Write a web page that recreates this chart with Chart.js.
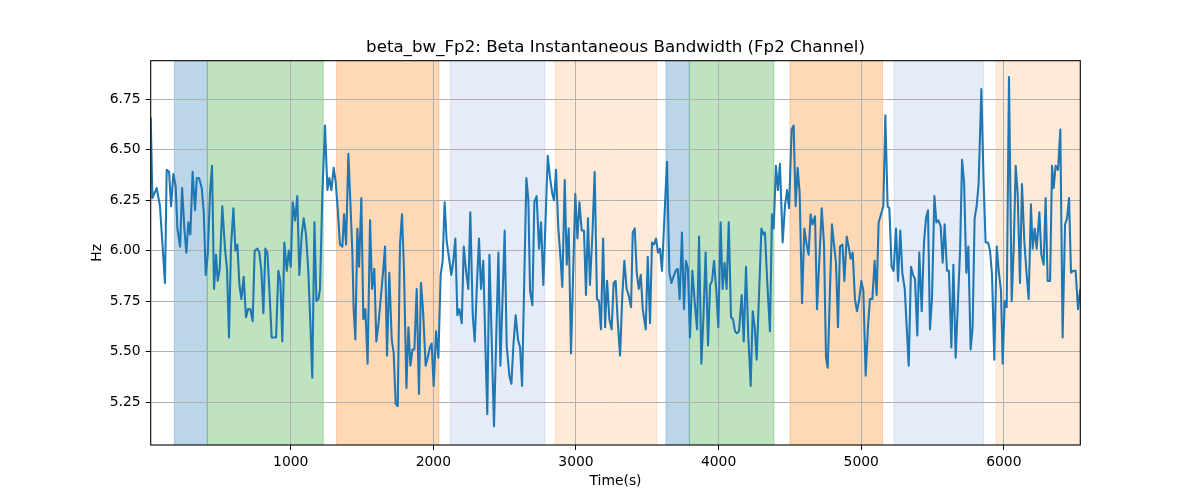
<!DOCTYPE html>
<html>
<head>
<meta charset="utf-8">
<script src="https://cdn.jsdelivr.net/npm/chart.js@4.4.1/dist/chart.umd.min.js"></script>
<style>
  html, body { margin: 0; padding: 0; background: #fff; }
  #wrap { width: 1200px; height: 500px; }
</style>
</head>
<body>
<div id="wrap"><canvas id="chart" width="1200" height="500"></canvas></div>
<script>
// time (s) and instantaneous bandwidth (Hz)
const times = [
  18, 30, 60, 83, 118, 130, 147, 161, 177, 193,
  205, 224, 238, 254, 268, 282, 296, 312, 329, 341,
  357, 376, 390, 404, 418, 434, 448, 462, 476, 488,
  502, 520, 539, 553, 567, 581, 598, 612, 626, 640,
  654, 670, 686, 700, 717, 733, 747, 766, 780, 794,
  808, 822, 836, 850, 866, 897, 913, 927, 941, 955,
  972, 986, 1000, 1014, 1030, 1046, 1060, 1077, 1091, 1107,
  1123, 1137, 1151, 1166, 1180, 1194, 1205, 1222, 1240, 1257,
  1271, 1285, 1301, 1315, 1329, 1345, 1362, 1374, 1388, 1404,
  1418, 1432, 1441, 1453, 1467, 1479, 1495, 1509, 1523, 1539,
  1556, 1570, 1586, 1600, 1614, 1633, 1649, 1661, 1675, 1691,
  1708, 1722, 1736, 1750, 1766, 1780, 1794, 1811, 1825, 1839,
  1853, 1867, 1883, 1899, 1913, 1927, 1946, 1960, 1976, 1988,
  2002, 2019, 2035, 2051, 2065, 2079, 2093, 2112, 2126, 2140,
  2154, 2168, 2182, 2199, 2213, 2229, 2245, 2259, 2276, 2290,
  2304, 2320, 2334, 2350, 2364, 2378, 2393, 2425, 2456, 2470,
  2500, 2514, 2533, 2547, 2561, 2577, 2593, 2608, 2622, 2652,
  2666, 2678, 2694, 2708, 2724, 2741, 2755, 2771, 2802, 2818,
  2834, 2846, 2860, 2876, 2890, 2904, 2921, 2935, 2949, 2965,
  2995, 3010, 3024, 3040, 3056, 3070, 3084, 3098, 3115, 3131,
  3147, 3161, 3175, 3190, 3204, 3218, 3234, 3250, 3264, 3278,
  3292, 3309, 3325, 3339, 3355, 3369, 3386, 3398, 3412, 3426,
  3440, 3454, 3468, 3489, 3503, 3519, 3533, 3547, 3561, 3575,
  3589, 3603, 3638, 3655, 3669, 3683, 3699, 3713, 3727, 3743,
  3757, 3771, 3785, 3799, 3816, 3832, 3849, 3863, 3879, 3893,
  3909, 3926, 3940, 3954, 3968, 3984, 3998, 4014, 4028, 4042,
  4056, 4071, 4087, 4101, 4115, 4129, 4143, 4162, 4176, 4192,
  4208, 4225, 4239, 4253, 4267, 4300, 4314, 4325, 4342, 4360,
  4374, 4386, 4402, 4416, 4430, 4449, 4465, 4480, 4494, 4512,
  4526, 4540, 4554, 4568, 4585, 4601, 4617, 4631, 4645, 4659,
  4676, 4690, 4723, 4739, 4753, 4765, 4781, 4795, 4809, 4823,
  4837, 4851, 4868, 4882, 4898, 4914, 4926, 4940, 4956, 4970,
  4984, 5001, 5015, 5031, 5047, 5061, 5078, 5094, 5108, 5122,
  5139, 5155, 5169, 5185, 5197, 5213, 5227, 5244, 5258, 5274,
  5288, 5305, 5319, 5333, 5349, 5363, 5377, 5393, 5407, 5424,
  5440, 5454, 5468, 5482, 5496, 5513, 5527, 5541, 5557, 5571,
  5585, 5601, 5615, 5632, 5646, 5662, 5693, 5707, 5721, 5737,
  5751, 5767, 5781, 5795, 5809, 5823, 5842, 5858, 5872, 5889,
  5903, 5917, 5933, 5950, 5964, 5980, 5992, 6006, 6020, 6036,
  6055, 6069, 6083, 6097, 6113, 6127, 6144, 6160, 6174, 6190,
  6202, 6216, 6230, 6249, 6263, 6279, 6293, 6307, 6324, 6338,
  6349, 6363, 6380, 6396, 6412, 6429, 6443, 6457, 6471, 6487,
  6503, 6520, 6536
];
const bandwidth = [
  6.66, 6.26, 6.31, 6.22, 5.84, 6.40, 6.39, 6.22, 6.38, 6.32,
  6.11, 6.02, 6.31, 6.11, 5.99, 6.14, 6.08, 6.39, 6.20, 6.36,
  6.36, 6.31, 6.19, 5.88, 5.98, 6.29, 6.42, 5.81, 5.98, 5.85,
  5.91, 6.22, 6.01, 5.91, 5.57, 6.02, 6.21, 6.00, 6.03, 5.83,
  5.76, 5.87, 5.67, 5.71, 5.71, 5.65, 6.00, 6.01, 5.99, 5.90,
  5.69, 6.01, 5.99, 5.81, 5.57, 5.57, 5.90, 5.85, 5.55, 6.04,
  5.90, 6.00, 5.92, 6.24, 6.15, 6.27, 5.88, 6.08, 6.16, 6.08,
  5.90, 5.65, 5.37, 6.14, 5.75, 5.76, 5.81, 6.29, 6.62, 6.30,
  6.36, 6.30, 6.41, 6.34, 6.21, 6.03, 6.02, 6.18, 6.03, 6.48,
  6.24, 5.99, 5.71, 5.56, 6.11, 5.92, 6.26, 5.66, 5.71, 5.44,
  6.15, 5.81, 5.91, 5.55, 5.63, 5.78, 5.91, 6.02, 5.48, 5.89,
  5.56, 5.49, 5.24, 5.23, 6.03, 6.18, 5.90, 5.32, 5.62, 5.43,
  5.51, 5.51, 5.81, 5.29, 5.84, 5.71, 5.43, 5.47, 5.52, 5.54,
  5.33, 5.60, 5.47, 5.88, 5.95, 6.24, 6.05, 5.95, 5.88, 5.95,
  6.06, 5.68, 5.71, 5.64, 6.02, 5.90, 5.81, 6.19, 5.68, 5.55,
  5.81, 6.06, 5.81, 5.95, 5.55, 5.19, 5.98, 5.13, 5.99, 5.43,
  6.10, 5.53, 5.38, 5.34, 5.53, 5.68, 5.56, 5.52, 5.33, 6.36,
  6.25, 5.80, 5.73, 6.24, 6.27, 6.01, 6.14, 5.83, 6.47, 6.36,
  6.28, 6.25, 6.40, 6.11, 5.98, 5.82, 6.35, 5.93, 6.11, 5.49,
  6.28, 6.06, 6.24, 6.10, 6.10, 5.78, 6.16, 5.83, 6.08, 6.39,
  5.76, 5.75, 5.61, 6.06, 5.62, 5.85, 5.66, 5.61, 5.84, 5.85,
  5.66, 5.48, 5.78, 5.95, 5.81, 5.78, 5.72, 6.09, 6.11, 5.89,
  5.81, 5.88, 5.71, 5.61, 5.97, 5.64, 6.04, 6.03, 6.06, 5.99,
  6.01, 5.90, 6.44, 5.89, 5.84, 5.87, 5.90, 5.91, 5.76, 6.09,
  5.71, 5.95, 5.91, 5.57, 5.90, 5.75, 5.61, 6.07, 5.44, 5.66,
  5.99, 5.53, 5.83, 5.85, 5.95, 5.80, 5.62, 6.14, 5.81, 5.94,
  5.81, 6.14, 5.67, 5.66, 5.60, 5.59, 5.60, 5.78, 5.55, 5.92,
  5.58, 5.33, 5.70, 5.62, 5.46, 6.11, 6.08, 6.09, 5.83, 5.60,
  6.18, 6.11, 6.42, 6.30, 6.43, 6.04, 6.22, 6.30, 6.21, 6.60,
  6.62, 6.22, 6.41, 6.29, 5.74, 6.11, 6.03, 5.98, 6.18, 6.13,
  6.17, 5.71, 6.21, 6.03, 5.47, 5.42, 5.81, 6.13, 6.03, 5.94,
  5.62, 6.02, 6.03, 5.85, 6.07, 6.01, 5.96, 5.99, 5.76, 5.70,
  5.75, 5.85, 5.80, 5.38, 5.62, 5.76, 5.76, 5.95, 5.78, 6.14,
  6.18, 6.22, 6.67, 6.22, 6.21, 5.92, 5.90, 6.11, 5.85, 6.10,
  5.89, 5.81, 5.62, 5.43, 5.92, 5.88, 5.86, 5.58, 5.99, 5.70,
  6.04, 6.16, 6.20, 5.61, 5.76, 6.27, 6.14, 6.15, 6.12, 5.94,
  6.13, 5.90, 5.90, 5.52, 5.93, 5.47, 6.00, 6.45, 6.34, 5.89,
  6.02, 5.51, 5.62, 6.16, 6.22, 6.33, 6.80, 6.34, 6.04, 6.04,
  6.00, 5.88, 5.46, 6.02, 5.90, 5.80, 5.44, 5.75, 5.72, 6.86,
  5.75, 6.01, 6.42, 6.28, 5.84, 6.33, 6.04, 5.88, 5.76, 6.23,
  6.01, 6.11, 6.01, 6.19, 5.98, 5.93, 6.26, 5.85, 5.85, 6.42,
  6.31, 6.42, 6.40, 6.60, 5.57, 6.13, 6.16, 6.26, 5.89, 5.90,
  5.90, 5.71, 5.81
];

// shaded intervals (s) and their kind
const spanStart = [184, 415, 1320, 2119, 2853, 3631, 3795, 4500, 5230, 5945];
const spanEnd   = [415, 1228, 2039, 2783, 3566, 3795, 4388, 5150, 5858, 6536];
const spanKind  = ['a', 'b', 'c', 'd', 'e', 'a', 'b', 'c', 'd', 'e'];

const xTicks = [1000, 2000, 3000, 4000, 5000, 6000];
const yTicks = [5.25, 5.50, 5.75, 6.00, 6.25, 6.50, 6.75];
const chartTitle = 'beta_bw_Fp2: Beta Instantaneous Bandwidth (Fp2 Channel)';

const kindColors = {
  a: 'rgba(31,119,180,0.3)',
  b: 'rgba(44,160,44,0.3)',
  c: 'rgba(255,127,14,0.3)',
  d: 'rgba(70,120,200,0.14)',
  e: 'rgba(255,127,14,0.16)'
};

Chart.defaults.font.family = '"DejaVu Sans", sans-serif';
Chart.defaults.color = '#000';

const spansPlugin = {
  id: 'spans',
  beforeDraw(chart) {
    const ctx = chart.ctx, area = chart.chartArea, xs = chart.scales.x;
    ctx.save();
    ctx.beginPath();
    ctx.rect(area.left, area.top, area.right - area.left, area.bottom - area.top);
    ctx.clip();
    spanStart.forEach((s, i) => {
      const x0 = xs.getPixelForValue(s);
      const x1 = xs.getPixelForValue(spanEnd[i]);
      ctx.fillStyle = kindColors[spanKind[i]];
      ctx.fillRect(x0, area.top, x1 - x0, area.bottom - area.top);
      ctx.strokeStyle = kindColors[spanKind[i]];
      ctx.lineWidth = 1;
      ctx.beginPath();
      ctx.moveTo(x0, area.top); ctx.lineTo(x0, area.bottom);
      ctx.moveTo(x1, area.top); ctx.lineTo(x1, area.bottom);
      ctx.stroke();
    });
    ctx.restore();
  }
};

const framePlugin = {
  id: 'frame',
  afterDraw(chart) {
    const ctx = chart.ctx, a = chart.chartArea;
    ctx.save();
    ctx.strokeStyle = '#000';
    ctx.lineWidth = 1.1;
    ctx.strokeRect(a.left, a.top, a.right - a.left, a.bottom - a.top);
    ctx.fillStyle = '#000';
    ctx.font = '16.67px "DejaVu Sans"';
    ctx.textAlign = 'center';
    ctx.textBaseline = 'alphabetic';
    ctx.fillText(chartTitle, (a.left + a.right) / 2, a.top - 8.3);
    ctx.restore();
  }
};

const tickFont = { family: '"DejaVu Sans"', size: 13.9 };

new Chart(document.getElementById('chart'), {
  type: 'line',
  data: {
    datasets: [{
      data: times.map((t, i) => ({ x: t, y: bandwidth[i] })),
      borderColor: '#1f77b4',
      borderWidth: 2.08,
      pointRadius: 0,
      tension: 0,
      borderJoinStyle: 'round',
      fill: false
    }]
  },
  options: {
    responsive: false,
    animation: false,
    events: [],
    layout: { padding: { left: 88.6, right: 119.7, top: 60.7, bottom: 10.6 } },
    plugins: { legend: { display: false }, tooltip: { enabled: false }, title: { display: false } },
    scales: {
      x: {
        type: 'linear',
        min: 18,
        max: 6536,
        afterBuildTicks: s => { s.ticks = xTicks.map(v => ({ value: v })); },
        afterFit: s => { s.height = 44.4; },
        ticks: { font: tickFont, color: '#000', padding: 4, maxRotation: 0, callback: v => String(v) },
        grid: { color: '#b0b0b0', lineWidth: 1, tickColor: '#000', tickLength: 5 },
        border: { display: false },
        title: { display: true, text: 'Time(s)', color: '#000', font: tickFont, padding: { top: 0, bottom: 0 } }
      },
      y: {
        type: 'linear',
        min: 5.037,
        max: 6.941,
        afterBuildTicks: s => { s.ticks = yTicks.map(v => ({ value: v })); },
        afterFit: s => { s.width = 62.1; },
        ticks: { font: tickFont, color: '#000', padding: 5, callback: v => Number(v).toFixed(2) },
        grid: { color: '#b0b0b0', lineWidth: 1, tickColor: '#000', tickLength: 5 },
        border: { display: false },
        title: { display: true, text: 'Hz', color: '#000', font: tickFont, padding: { top: 0, bottom: 0 } }
      }
    }
  },
  plugins: [spansPlugin, framePlugin]
});
</script>
</body>
</html>
